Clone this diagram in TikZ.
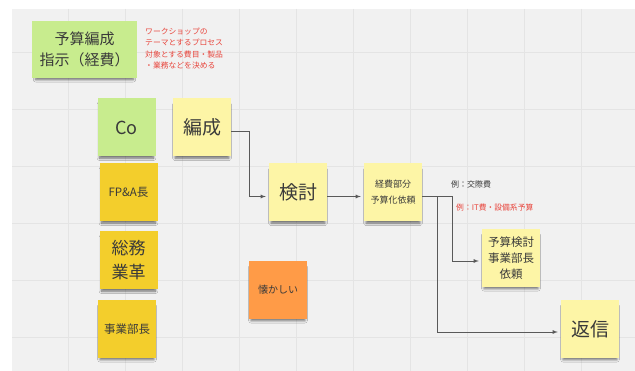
\documentclass[tikz,border=0pt]{standalone}
\usepackage{fontspec}
\setmainfont{Noto Sans CJK JP}
\usetikzlibrary{positioning,shadows,shadows.blur}
\tikzset{>=latex}
\definecolor{notegreen}{HTML}{C8EC8E}
\definecolor{noteyellow}{HTML}{FDF5A6}
\definecolor{notegold}{HTML}{F3CE2C}
\definecolor{noteorange}{HTML}{FF9B47}
\definecolor{memored}{HTML}{E8453C}
\definecolor{board}{HTML}{F1F1F1}
\definecolor{boardgrid}{HTML}{E4E4E4}
\definecolor{ink}{HTML}{3A3A3A}
\tikzset{
  note/.style={rectangle, minimum width=58pt, minimum height=58pt, inner sep=1pt, align=center, text=ink,
    blur shadow={shadow xshift=0pt, shadow yshift=-4pt, shadow scale=0.93, shadow opacity=55, shadow blur steps=6, shadow blur radius=2.5pt}},
  green note/.style={note, fill=notegreen},
  pale note/.style={note, fill=noteyellow},
  gold note/.style={note, fill=notegold},
  orange note/.style={note, fill=noteorange},
  memo/.style={inner sep=0pt, align=left, text=memored},
  conn/.style={->, draw=black!65, line width=0.8pt, shorten >=3pt},
}
\begin{document}
\begin{tikzpicture}[x=1pt, y=-1pt]
      \useasboundingbox (0,0) rectangle (635,371);
      \fill[white] (0,0) rectangle (635,371);
      \fill[board] (12,9) rectangle (635,371);
      \foreach \gx in {68,125,...,630} \draw[boardgrid, line width=0.8pt] (\gx,9) -- (\gx,371);
      \foreach \gy in {52,109,...,371} \draw[boardgrid, line width=0.8pt] (12,\gy) -- (635,\gy);
      \node[green note, minimum width=105pt, minimum height=57pt, font=\fontsize{15}{21}\selectfont] (shiji) at (84.5,49.5) {予算編成\\指示（経費）};
      \node[memo, anchor=north west, font=\fontsize{7.8}{11.3}\selectfont] (memo) at (145,28) {ワークショップの\\テーマとするプロセス\\対象とする費目・製品\\・業務などを決める};
      \node[green note, font=\fontsize{18}{22}\selectfont] (co) at (126.5,127.5) {Co};
      \node[pale note, right of=co, node distance=75.5pt, font=\fontsize{19}{22}\selectfont] (hensei) {編成};
      \node[gold note, below of=co, node distance=65pt, xshift=2pt, font=\fontsize{11.5}{14}\selectfont] (fpa) {FP\&A長};
      \node[gold note, below of=fpa, node distance=68pt, font=\fontsize{17}{24}\selectfont] (soumu) {総務\\業革};
      \node[gold note, below of=soumu, node distance=68.5pt, xshift=-1.5pt, font=\fontsize{11.5}{14}\selectfont] (jigyo) {事業部長};
      \node[pale note, right of=fpa, node distance=169.5pt, font=\fontsize{19}{22}\selectfont] (kento) {検討};
      \node[pale note, right of=kento, node distance=95pt, font=\fontsize{9}{16}\selectfont] (keihi) {経費部分\\予算化依頼};
      \node[orange note, font=\fontsize{10}{12}\selectfont] (natsu) at (278,290) {懐かしい};
      \node[pale note, font=\fontsize{11.5}{16}\selectfont] (yosan) at (511,258) {予算検討\\事業部長\\依頼};
      \node[pale note, right of=jigyo, node distance=463pt, font=\fontsize{19}{22}\selectfont] (henshin) {返信};
      \node[anchor=west, inner sep=0pt, text=ink, font=\fontsize{8}{10}\selectfont] (rei1) at (451,184) {例：交際費};
      \node[anchor=west, inner sep=0pt, text=memored, font=\fontsize{7.8}{10}\selectfont] (rei2) at (456,208) {例：IT費・設備系予算};
      \draw[conn] ([yshift=-4pt]hensei.east) -- ++(18,0) |- ([yshift=-4pt]kento.west);
      \draw[conn] ([yshift=-4pt]kento.east) -- ([yshift=-4pt]keihi.west);
      \draw[conn] ([yshift=-4pt]keihi.east) -- ++(15,0) |- ([yshift=-3pt]henshin.west);
      \draw[conn] ([yshift=-4pt]keihi.east) -- ++(30,0) |- ([yshift=-3pt]yosan.west);
\end{tikzpicture}
\end{document}
